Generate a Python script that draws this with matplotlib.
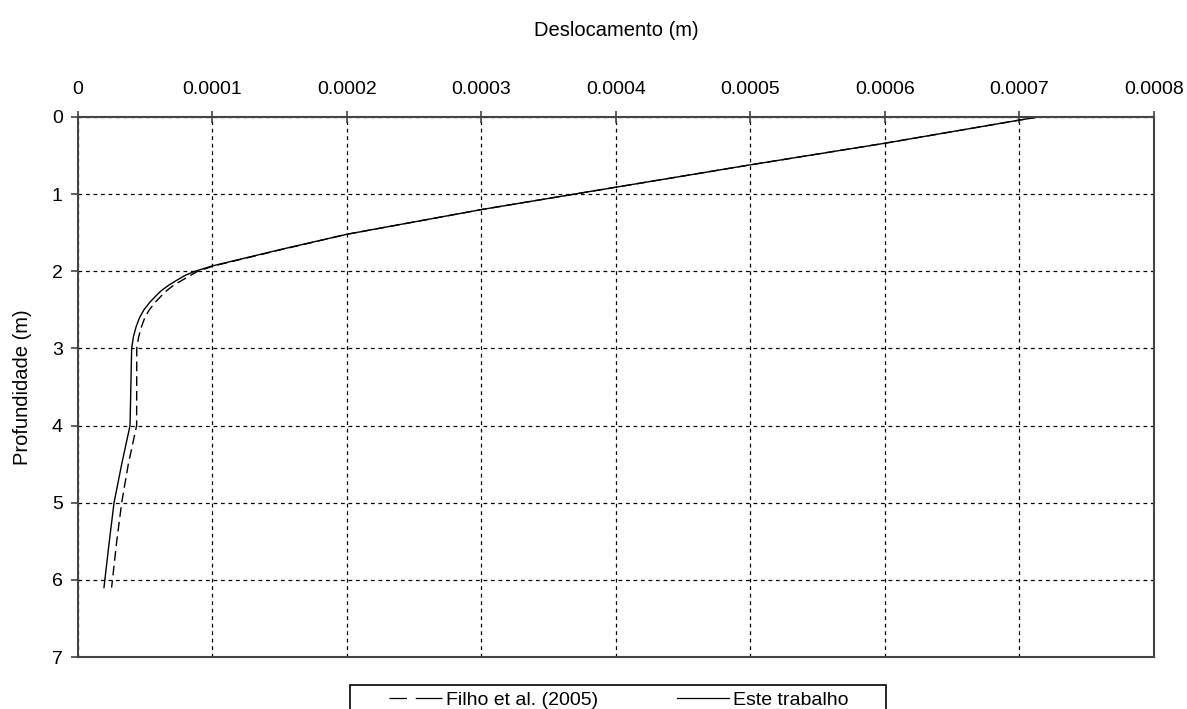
import matplotlib.pyplot as plt
from matplotlib.lines import Line2D
from matplotlib.patches import Rectangle

# fonte parecida com Arial
plt.rcParams['font.family'] = ['Liberation Sans', 'DejaVu Sans']

# profundidade (m) e deslocamento (m) - Este trabalho
prof_este = [0.0, 0.04, 0.34, 0.62, 0.91, 1.20, 1.52, 1.72, 1.93, 2.0, 2.05, 2.1, 2.18,
             2.25, 2.3, 2.4, 2.5, 2.6, 2.72, 2.85, 3.0, 4.0, 4.5, 5.0, 5.5, 6.1]
desl_este = [0.000714, 0.000700, 0.000600, 0.000500, 0.000400, 0.000300, 0.000200,
             0.000150, 0.000100, 0.000087, 0.000080, 0.000075, 0.0000675, 0.000062,
             0.000059, 0.0000535, 0.000049, 0.0000458, 0.0000432, 0.0000412,
             0.0000399, 0.0000387, 0.0000325, 0.0000268, 0.0000233, 0.0000193]

# Filho et al. (2005)
prof_filho = [0.0, 0.04, 0.34, 0.62, 0.91, 1.20, 1.52, 1.72, 1.93, 2.0, 2.05, 2.1, 2.18,
              2.25, 2.3, 2.4, 2.5, 2.6, 2.72, 2.85, 3.0, 4.0, 4.5, 5.0, 5.5, 6.1]
desl_filho = [0.000714, 0.000700, 0.000600, 0.000500, 0.000400, 0.000300, 0.000200,
              0.000151, 0.000101, 0.000089, 0.000084, 0.000079, 0.0000712, 0.000066,
              0.000063, 0.0000575, 0.000053, 0.0000497, 0.0000472, 0.0000451,
              0.0000437, 0.0000436, 0.0000374, 0.0000325, 0.0000288, 0.000025]

x_ticks = [0, 0.0001, 0.0002, 0.0003, 0.0004, 0.0005, 0.0006, 0.0007, 0.0008]
x_labels = ['0', '0.0001', '0.0002', '0.0003', '0.0004', '0.0005', '0.0006', '0.0007', '0.0008']
y_ticks = [0, 1, 2, 3, 4, 5, 6, 7]

fig = plt.figure(figsize=(11.87, 7.09), dpi=100)
ax = fig.add_axes([0.0657, 0.0733, 0.9065, 0.7617])

ax.plot(desl_filho, prof_filho, color='black', linewidth=1.0,
        linestyle=(0, (7, 3.6)), label='Filho et al. (2005)')
ax.plot(desl_este, prof_este, color='black', linewidth=1.0, label='Este trabalho')

ax.set_xlim(0, 0.0008)
ax.set_ylim(7, 0)
ax.set_xticks(x_ticks)
ax.set_xticklabels(x_labels)
ax.set_yticks(y_ticks)

# eixo x em cima
ax.xaxis.tick_top()
ax.xaxis.set_label_position('top')
ax.tick_params(axis='x', direction='inout', length=8, width=1.2, color='#444444',
               labelsize=14, pad=10)
ax.tick_params(axis='y', direction='out', length=5, width=1.2, color='#444444',
               labelsize=14, pad=6)

ax.grid(True, color='black', linestyle=(0, (3, 3)), linewidth=0.9)
for s in ax.spines.values():
    s.set_color('#444444')
    s.set_linewidth(1.5)

ax.set_xlabel('Deslocamento (m)', fontsize=14.5, labelpad=32)
ax.set_ylabel('Profundidade (m)', fontsize=14.5, labelpad=14)

# legenda embaixo, cortada pela borda da figura como no original
fig.patches.append(Rectangle((350 / 1187, -0.05), 536 / 1187, 0.05 + 1 - 685 / 709,
                             transform=fig.transFigure, fill=False,
                             edgecolor='black', linewidth=1.2))
handles = [Line2D([], [], color='black', linewidth=0.9, linestyle=(0, (14, 7, 24, 7))),
           Line2D([], [], color='black', linewidth=0.9)]
fig.legend(handles, ['Filho et al. (2005)', 'Este trabalho'], loc='upper center',
           bbox_to_anchor=(619 / 1187, 1 - 691 / 709), ncol=2, fontsize=14,
           frameon=False, handlelength=2.7, handletextpad=0.2, columnspacing=4.06,
           borderpad=0, borderaxespad=0)

fig.savefig('out.png', dpi=100)
